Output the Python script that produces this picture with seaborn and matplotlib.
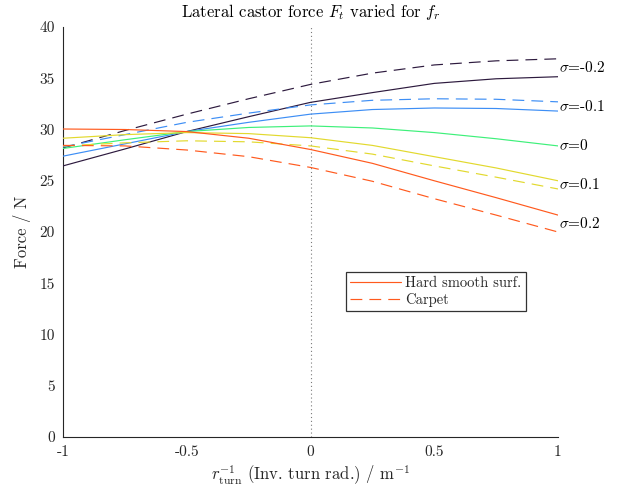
import matplotlib
matplotlib.use("Agg")
import matplotlib.pyplot as plt
from matplotlib.lines import Line2D
import numpy as np
import pandas as pd
import seaborn as sns

# Inverse turn radius sample points / m^-1
inv_turn_radius = [-1.0, -0.75, -0.5, -0.25, 0.0, 0.25, 0.5, 0.75, 1.0]

# Lateral castor force / N on a hard smooth surface, one series per sigma
hard_sigma_m02 = [26.45, 28.1, 29.8, 31.25, 32.65, 33.6, 34.5, 34.95, 35.15]
hard_sigma_m01 = [27.4, 28.6, 29.8, 30.7, 31.5, 31.95, 32.1, 32.05, 31.8]
hard_sigma_0 = [28.15, 29.0, 29.8, 30.2, 30.35, 30.15, 29.7, 29.1, 28.4]
hard_sigma_01 = [29.15, 29.5, 29.7, 29.6, 29.2, 28.45, 27.35, 26.25, 25.0]
hard_sigma_02 = [30.05, 30.0, 29.8, 29.15, 28.05, 26.7, 25.0, 23.35, 21.65]

# Lateral castor force / N on carpet
carpet_sigma_m02 = [28.2, 29.9, 31.5, 33.0, 34.4, 35.5, 36.3, 36.7, 36.9]
carpet_sigma_m01 = [28.3, 29.5, 30.7, 31.6, 32.4, 32.85, 33.0, 32.95, 32.7]
carpet_sigma_01 = [28.4, 28.7, 28.9, 28.8, 28.4, 27.6, 26.45, 25.35, 24.2]
carpet_sigma_02 = [28.45, 28.4, 28.0, 27.35, 26.3, 24.95, 23.25, 21.65, 20.0]

sigma_labels = ["-0.2", "-0.1", "0", "0.1", "0.2"]
sigma_colors = ["#2d1a3e", "#3d8ef5", "#3ef07a", "#e2d92e", "#ff5a1e"]
surface_names = ["Hard smooth surf.", "Carpet"]

x_tick_values = [-1, -0.5, 0, 0.5, 1]
x_tick_labels = ["-1", "-0.5", "0", "0.5", "1"]
y_tick_values = [0, 5, 10, 15, 20, 25, 30, 35, 40]
y_tick_labels = ["0", "5", "10", "15", "20", "25", "30", "35", "40"]

hard = {"-0.2": hard_sigma_m02, "-0.1": hard_sigma_m01, "0": hard_sigma_0,
        "0.1": hard_sigma_01, "0.2": hard_sigma_02}
carpet = {"-0.2": carpet_sigma_m02, "-0.1": carpet_sigma_m01,
          "0.1": carpet_sigma_01, "0.2": carpet_sigma_02}

rows = []
for surf, table in zip(surface_names, [hard, carpet]):
    for sig, values in table.items():
        for xv, fv in zip(inv_turn_radius, values):
            rows.append({"x": xv, "force": fv, "sigma": sig, "surface": surf})
df = pd.DataFrame(rows)

sns.set_theme(style="white")
plt.rcParams["font.family"] = ["cmr10", "DejaVu Serif"]
plt.rcParams["mathtext.fontset"] = "cm"
plt.rcParams["axes.unicode_minus"] = False
plt.rcParams["axes.formatter.use_mathtext"] = True

text_color = "#262626"
fig = plt.figure(figsize=(6.22, 4.93), dpi=100)
ax = fig.add_axes([0.1013, 0.1136, 0.7958, 0.8316])

ax.axvline(0, color="#7a7a7a", lw=0.8, ls=(0, (1, 2.5)), zorder=1)

palette = dict(zip(sigma_labels, sigma_colors))
dash_styles = {"Hard smooth surf.": "", "Carpet": (10, 6)}
sns.lineplot(data=df, x="x", y="force", hue="sigma", hue_order=sigma_labels,
             style="surface", style_order=surface_names, dashes=dash_styles,
             palette=palette, linewidth=0.85, legend=False, ax=ax,
             estimator=None, sort=False, zorder=3)

# sigma annotations at the right end of each pair of curves
for sig in sigma_labels:
    ends = [hard[sig][-1]] + ([carpet[sig][-1]] if sig in carpet else [])
    ax.text(inv_turn_radius[-1] + 0.003, float(np.mean(ends)), r"$\sigma$=" + sig,
            ha="left", va="center", fontsize=11, color="black", clip_on=False)

ax.set_xlim(-1, 1)
ax.set_ylim(0, 40)
ax.set_xticks(x_tick_values)
ax.set_xticklabels(x_tick_labels)
ax.set_yticks(y_tick_values)
ax.set_yticklabels(y_tick_labels)
ax.tick_params(axis="both", direction="in", length=5, width=0.8,
               colors=text_color, labelsize=11, pad=6,
               top=False, right=False)
for side in ["top", "right"]:
    ax.spines[side].set_visible(False)
for side in ["left", "bottom"]:
    ax.spines[side].set_color(text_color)
    ax.spines[side].set_linewidth(0.8)

ax.set_xlabel(r"$r_{\mathrm{turn}}^{-1}$ (Inv. turn rad.) / m$^{-1}$",
              fontsize=12, color=text_color, labelpad=3)
ax.set_ylabel("Force / N", fontsize=12, color=text_color, labelpad=6)
ax.set_title(r"Lateral castor force $F_t$ varied for $f_r$", fontsize=12,
             color="black", pad=7)

handles = [Line2D([], [], color=sigma_colors[-1], lw=0.85, ls="-"),
           Line2D([], [], color=sigma_colors[-1], lw=0.85, dashes=(10, 6))]
leg = ax.legend(handles, surface_names, loc="upper left",
                bbox_to_anchor=(0.571, 0.403), frameon=True, fancybox=False,
                fontsize=10.5, handlelength=3.5, handletextpad=0.3,
                borderpad=0.3, labelspacing=0.2, borderaxespad=0)
leg.get_frame().set_edgecolor("black")
leg.get_frame().set_linewidth(0.9)

fig.savefig("out.png", dpi=100)
